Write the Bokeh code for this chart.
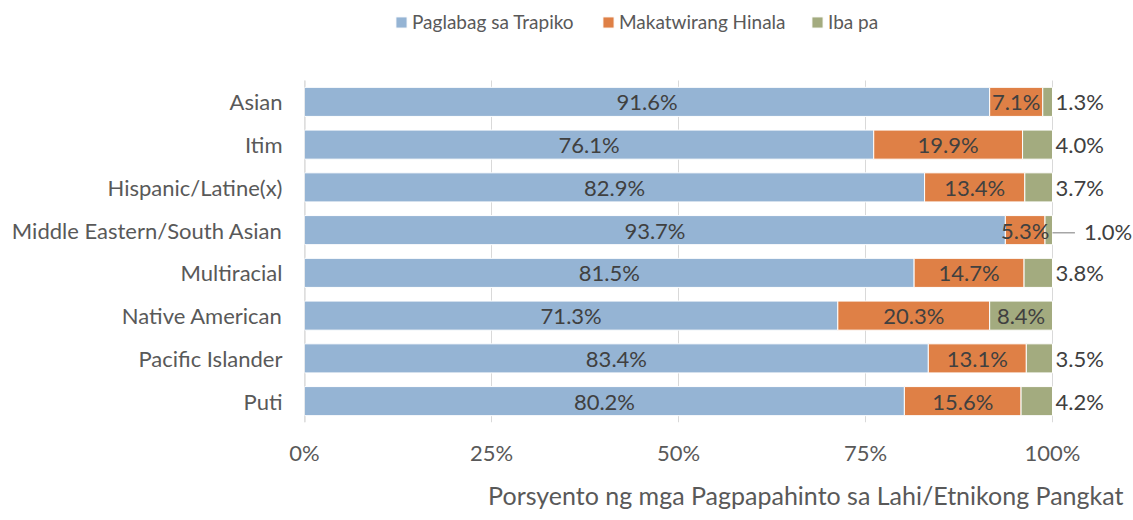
from bokeh.plotting import figure
from bokeh.models import (ColumnDataSource, Range1d, FixedTicker,
                          PrintfTickFormatter, Legend, LegendItem, Title)
from bokeh.core.properties import value
from bokeh.embed import file_html
from bokeh.resources import INLINE

categories = ["Asian", "Itim", "Hispanic/Latine(x)", "Middle Eastern/South Asian",
              "Multiracial", "Native American", "Pacific Islander", "Puti"]
traffic = [91.6, 76.1, 82.9, 93.7, 81.5, 71.3, 83.4, 80.2]
suspicion = [7.1, 19.9, 13.4, 5.3, 14.7, 20.3, 13.1, 15.6]
other = [1.3, 4.0, 3.7, 1.0, 3.8, 8.4, 3.5, 4.2]
series_names = ["Paglabag sa Trapiko", "Makatwirang Hinala", "Iba pa"]
tick_values = [0, 25, 50, 75, 100]
x_title = "Porsyento ng mga Pagpapahinto sa Lahi/Etnikong Pangkat"

colors = ["#95B4D4", "#DF8046", "#A3AB7F"]
FONT = "Lato"
FS = "22px"
TXT = "#404040"
GRAY = "#595959"
GRID = "#D9D9D9"

n = len(categories)
ypos = [n - 1 - i for i in range(n)]          # first category on top
source = ColumnDataSource(dict(y=ypos, a=traffic, b=suspicion, c=other))

FRAME_H = 422
BAND = 42.75
top_extra = (FRAME_H - n * BAND) / BAND      # room above the bars for the legend

p = figure(width=1133, height=520, title=None,
           y_range=Range1d(-0.5, n - 0.5 + top_extra),
           x_range=Range1d(0, 110.83),
           output_backend="svg", toolbar_location=None,
           min_border_left=304, min_border_right=0,
           min_border_top=0, min_border_bottom=98)
p.outline_line_color = None
p.xgrid.grid_line_color = None
p.ygrid.grid_line_color = None

# grid lines and category axis line, limited to the bar area
p.segment(x0=tick_values, x1=tick_values, y0=[-0.5] * len(tick_values),
          y1=[n - 0.5] * len(tick_values), line_color=GRID, line_width=1)
p.segment(x0=[0], x1=[0], y0=[-0.5], y1=[n - 0.5], line_color="#D0D0D0",
          line_width=2)

rends = p.hbar_stack(["a", "b", "c"], y="y", height=0.68, color=colors,
                     line_color="white", line_width=1, source=source)

# axes
p.xaxis.ticker = FixedTicker(ticks=tick_values)
p.xaxis.formatter = PrintfTickFormatter(format="%d%%")
p.xaxis.axis_line_color = None
p.xaxis.major_tick_line_color = None
p.xaxis.minor_tick_line_color = None
p.xaxis.major_label_standoff = 10
p.xaxis.major_label_text_font = FONT
p.xaxis.major_label_text_font_size = FS
p.xaxis.major_label_text_color = GRAY

p.yaxis.ticker = FixedTicker(ticks=ypos)
p.yaxis.major_label_overrides = {y: c for y, c in zip(ypos, categories)}
p.yaxis.axis_line_color = None
p.yaxis.major_tick_line_color = None
p.yaxis.minor_tick_line_color = None
p.yaxis.major_label_standoff = 16
p.yaxis.major_label_text_font = FONT
p.yaxis.major_label_text_font_size = FS
p.yaxis.major_label_text_color = GRAY

# data labels
cx, cy, ct = [], [], []
ox, oy, ot = [], [], []
fx, fy, ft = [], [], []
for y, t, s, o in zip(ypos, traffic, suspicion, other):
    cx += [t / 2, t + s / 2]
    cy += [y, y]
    ct += [f"{t:.1f}%", f"{s:.1f}%"]
    if o >= 5:
        cx.append(t + s + o / 2); cy.append(y); ct.append(f"{o:.1f}%")
    elif o < 1.2:
        fx.append(t + s + o); fy.append(y); ft.append(f"{o:.1f}%")
    else:
        ox.append(t + s + o); oy.append(y); ot.append(f"{o:.1f}%")

p.text(x=cx, y=cy, text=ct, text_align="center", text_baseline="middle",
       text_font=value(FONT), text_font_size=FS, text_color=TXT)
p.text(x=[v + 0.4 for v in ox], y=oy, text=ot, text_align="left",
       text_baseline="middle", text_font=value(FONT), text_font_size=FS,
       text_color=TXT)
# callout label with leader line
p.segment(x0=fx, y0=[v - 0.06 for v in fy], x1=[v + 3.0 for v in fx],
          y1=[v - 0.06 for v in fy], line_color="#A6A6A6", line_width=1.5)
p.text(x=[v + 4.2 for v in fx], y=[v - 0.04 for v in fy], text=ft,
       text_align="left", text_baseline="middle", text_font=value(FONT),
       text_font_size=FS, text_color=TXT)

# axis title (below, right aligned)
p.add_layout(Title(text=x_title, align="right", offset=10, standoff=19,
                   text_font=FONT, text_font_size="25px",
                   text_font_style="normal", text_color=GRAY), "below")

# legend items, each placed at its own spot above the bars
leg_x = [90, 297, 506]
for r, name, lx in zip(rends, series_names, leg_x):
    lg = Legend(items=[LegendItem(label=name, renderers=[r])],
                location=(lx, 389), orientation="horizontal",
                glyph_width=14, glyph_height=14, label_standoff=4,
                padding=0, margin=0, border_line_color=None,
                background_fill_alpha=0, label_text_font=FONT,
                label_text_font_size="19px", label_text_color=GRAY,
                label_height=20)
    p.add_layout(lg)

open("out.html", "w").write(file_html(p, INLINE))
